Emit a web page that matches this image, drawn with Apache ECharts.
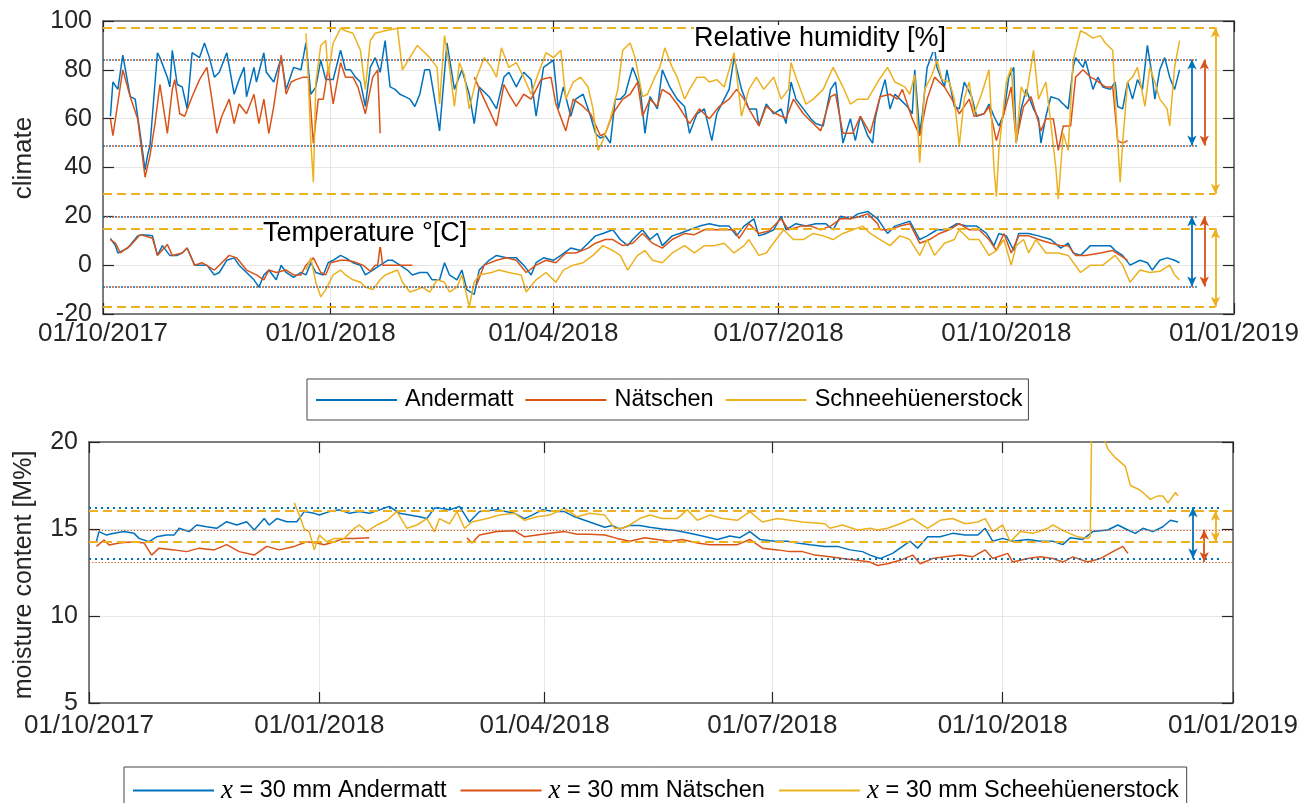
<!DOCTYPE html>
<html>
<head>
<meta charset="utf-8">
<title>Climate and moisture content</title>
<script src="https://cdn.jsdelivr.net/npm/echarts@6/dist/echarts.min.js"></script>
<style>
  html, body { margin: 0; padding: 0; background: #fff; }
  #chart { width: 1316px; height: 803px; }
</style>
</head>
<body>
<div id="chart"></div>
<script>
const stations = ['Andermatt', 'Nätschen', 'Schneehüenerstock'];
const mcNames = ['30 mm Andermatt', '30 mm Nätschen', '30 mm Scheehüenerstock'];
const colors = ['#0072BD', '#D95319', '#EDB120'];
const dateTicks = ['2017-10-01', '2018-01-01', '2018-04-01', '2018-07-01', '2018-10-01', '2019-01-01'];
const climateTicks = [-20, 100, 20];
const mcTicks = [5, 20, 5];

// [days after 01/10/2017, value]
const rhAndermatt = [
  [3,61],[4,75],[6,72],[8,86],[11,69],[13,68],[15,54],[17,39],[18,45],[19,49],[22,87],[23,85],[26,77],[27,73],[28,88],
  [30,74],[32,73],[34,64],[36,87],[39,85],[41,91],[43,85],[45,77],[47,79],[50,87],[53,70],[55,76],[57,81],[58,69],
  [61,81],[62,75],[65,87],[66,79],[69,75],[72,85],[74,72],[77,81],[80,80],[82,91],[84,70],[86,73],[88,84],[90,76],
  [93,76],[96,88],[98,80],[100,80],[102,77],[104,75],[106,65],[108,81],[110,85],[112,79],[114,92],[116,73],[118,72],
  [120,70],[122,69],[124,68],[126,65],[128,70],[130,80],[132,80],[134,68],[136,55],[139,91],[142,72],[145,80],[148,70],
  [150,58],[152,73],[156,69],[159,64],[162,77],[164,79],[167,73],[170,79],[173,76],[175,61],[178,81],[182,84],[184,64],
  [186,73],[189,61],[191,68],[194,70],[197,61],[199,54],[201,52],[203,53],[205,50],[207,68],[209,68],[211,70],[214,81],
  [217,73],[219,54],[221,69],[224,64],[226,80],[229,73],[232,68],[235,65],[237,54],[240,62],[243,64],[246,51],[248,62],
  [251,68],[253,72],[255,85],[258,72],[261,64],[264,64],[265,57],[268,66],[271,62],[274,64],[276,58],[278,75],[280,68],
  [283,64],[286,60],[288,58],[291,57],[294,72],[296,75],[299,50],[302,60],[304,51],[306,61],[309,53],[311,50],[312,60],
  [314,69],[316,76],[318,64],[320,70],[322,68],[325,65],[327,62],[328,80],[330,54],[331,61],[333,81],[336,89],[337,81],
  [340,73],[341,80],[344,65],[346,64],[348,75],[351,69],[353,61],[356,62],[358,66],[360,61],[362,57],[364,62],[366,77],
  [368,81],[369,50],[371,64],[373,72],[376,64],[378,60],[379,50],[381,61],[383,69],[386,68],[388,66],[390,64],[392,81],
  [393,85],[396,81],[397,84],[400,72],[402,77],[404,73],[407,72],[409,75],[410,65],[412,64],[414,75],[416,68],[418,76],
  [420,72],[422,90],[424,77],[425,68],[427,80],[429,85],[431,77],[433,72],[435,80]
];
const rhNaetschen = [
  [3,60],[4,53],[8,80],[11,69],[14,60],[17,36],[19,45],[21,58],[23,74],[26,54],[28,72],[29,76],[31,62],[33,61],[36,69],
  [39,76],[42,81],[44,68],[46,54],[48,61],[51,68],[53,58],[55,66],[58,62],[61,70],[63,58],[65,68],[67,54],[69,65],[72,86],
  [74,70],[76,75],[78,76],[81,77],[83,77],[85,50],[87,68],[89,68],[91,81],[93,66],[96,83],[98,77],[101,77],[103,73],
  [106,62],[109,77],[111,80],[112,54],[130,null],
  [150,77],[154,68],[159,57],[162,74],[164,70],[167,65],[170,70],[173,68],[177,76],[181,77],[183,66],[187,55],[190,68],
  [194,65],[197,62],[201,53],[203,54],[206,62],[210,68],[213,70],[216,75],[218,61],[221,68],[224,65],[226,72],[229,70],
  [232,66],[237,58],[241,64],[245,60],[249,65],[253,68],[256,72],[259,68],[261,64],[265,57],[268,65],[272,62],[276,60],
  [279,68],[283,62],[287,58],[290,55],[294,69],[296,70],[299,54],[303,54],[306,61],[310,54],[314,69],[318,70],[321,68],
  [323,72],[327,60],[330,53],[333,68],[336,77],[340,73],[343,68],[346,62],[350,68],[352,61],[356,62],[358,65],[361,51],
  [364,62],[367,73],[369,51],[372,65],[375,69],[379,55],[381,60],[384,60],[386,47],[388,57],[391,57],[393,77],[396,80],
  [399,77],[401,76],[405,73],[408,73],[410,51],[412,50],[414,51]
];
const rhSchnee = [
  [82,95],[83,75],[84,50],[85,34],[86,75],[88,90],[90,92],[91,78],[93,91],[96,97],[98,96],[101,95],[104,88],[106,72],
  [108,92],[110,95],[114,96],[119,97],[121,80],[124,85],[127,90],[129,88],[132,85],[135,81],[136,66],[138,94],[140,81],
  [142,65],[144,83],[146,78],[148,64],[151,77],[154,85],[157,81],[159,77],[161,89],[164,81],[167,83],[170,77],[173,70],
  [175,76],[179,87],[182,85],[185,88],[187,68],[190,75],[193,77],[196,73],[198,64],[200,47],[202,51],[205,60],[208,72],
  [210,88],[213,91],[215,85],[218,69],[220,70],[223,77],[225,81],[227,89],[230,81],[232,77],[235,68],[237,72],[240,77],
  [243,77],[245,75],[248,76],[251,73],[253,80],[255,87],[258,61],[261,72],[264,77],[267,72],[271,77],[274,68],[277,72],
  [278,83],[280,77],[284,66],[287,68],[291,72],[295,81],[299,73],[302,66],[305,68],[309,68],[313,75],[317,81],[320,75],
  [324,73],[326,70],[328,78],[330,42],[332,72],[335,78],[337,84],[339,76],[342,75],[344,68],[346,49],[348,68],[350,75],
  [352,62],[355,70],[358,80],[360,40],[361,28],[362,47],[365,75],[367,81],[369,50],[371,73],[373,69],[376,88],[378,68],
  [381,75],[383,58],[385,40],[386,27],[388,54],[390,47],[392,84],[395,96],[397,95],[400,93],[403,94],[405,91],[408,88],
  [409,68],[411,34],[412,50],[414,75],[416,77],[418,81],[421,65],[423,81],[425,75],[427,68],[430,64],[431,57],[433,81],
  [435,92]
];
const tAndermatt = [
  [3,11],[5,8],[6,5],[10,7],[14,12],[16,12.5],[20,12],[22,4],[24,8],[27,4],[30,4],[32,5],[34,7],[37,0],[39,0],[42,0],
  [45,-4],[47,-3],[50,2],[53,3],[55,0],[58,-3],[61,-6],[63,-9],[65,-4],[67,-2],[70,-6],[72,0],[74,-3],[77,-5],[80,-3],
  [82,-4],[84,1],[86,-3],[89,-4],[91,1],[93,2],[96,4],[98,3],[101,1],[104,0],[106,-4],[109,-2],[112,0],[115,2],[117,2],
  [120,0],[123,-2],[125,-4],[128,-3],[131,-3],[133,-6],[136,-6],[138,1],[140,-4],[143,-6],[145,-2],[147,-10],[150,-12],
  [152,-2],[156,2],[159,4],[163,3],[167,3],[170,0],[173,-4],[175,1],[178,3],[182,2],[185,4],[189,7],[193,6],[196,9],
  [199,12],[202,13],[206,14.5],[209,10.5],[212,8],[214,10.5],[218,14.5],[221,10.5],[224,13],[226,8],[230,12],[233,13],
  [237,14.5],[241,16],[245,17],[249,16],[253,16],[256,12],[259,16],[263,19],[265,12],[268,13],[271,14.5],[274,20],
  [276,14.5],[280,17],[284,16],[288,17],[292,17],[295,14.5],[298,20],[302,19],[305,21],[309,22],[313,19],[315,16],
  [317,13],[320,16],[323,17],[326,18],[330,10.5],[333,12],[337,14.5],[341,14.5],[345,17],[349,16],[353,16],[357,13],
  [360,8],[362,13],[365,12],[368,6],[370,13],[374,13],[378,12],[383,10.5],[387,7],[390,9],[392,5],[395,4],[399,8],
  [403,8],[407,8],[409,6],[412,4],[415,0],[419,2],[422,1],[424,-2],[427,2],[430,3],[433,2],[435,1]
];
const tNaetschen = [
  [3,10.5],[5,9],[7,5],[11,8],[15,12.5],[20,11],[22,4],[26,8.5],[28,4],[32,5],[34,7],[37,0],[40,1],[45,-2],[47,0],
  [51,4],[54,3],[58,-2],[62,-4],[65,-6],[67,-2],[70,-3],[74,-2],[77,-4],[80,-4],[82,0],[85,3],[88,-3],[90,-4],[92,1],
  [96,2],[98,2],[101,1.5],[105,0],[108,-2.5],[110,0],[111,0],[112,8],[113,0],[125,0],[135,null],
  [151,-8],[154,0],[159,2],[163,3],[167,2],[171,-3],[175,0],[179,2],[183,1],[187,5],[191,5],[196,7],[199,9],[203,10.5],
  [206,10.5],[210,8],[214,9],[218,13],[222,9],[226,7],[230,10.5],[235,13],[239,12.5],[243,14.5],[247,14.5],[251,14.5],
  [255,14.5],[257,11],[261,17],[265,13],[269,14],[274,19],[277,14.5],[282,16],[286,16],[290,14.5],[294,16],[298,19],
  [302,19],[306,20],[309,21],[313,17],[314,14.5],[318,14.5],[322,16],[326,17],[330,9],[334,10.5],[338,13],[342,14.5],
  [346,17],[350,14.5],[354,14.5],[358,10.5],[361,6],[364,13],[367,5],[370,12],[374,12],[378,10.5],[383,9],[387,8],
  [390,8],[393,4],[397,4],[403,5],[408,6],[411,4],[414,2]
];
const tSchnee = [
  [82,-2],[84,3],[86,-7],[88,-13],[90,-10],[93,-4],[96,-2],[98,-4],[101,-6],[104,-7],[106,-9],[109,-10],[112,-6],
  [114,-4],[119,-2],[121,-7],[124,-11],[127,-10],[129,-9],[132,-11],[135,-6],[138,-7],[140,-11],[143,-9],[145,-4],
  [148,-17],[150,-7],[152,-4],[157,-3],[160,-2],[164,-3],[169,-4],[171,-11],[175,-6],[179,-3],[183,-7],[186,-2],[190,0],
  [194,1],[198,4],[202,8],[206,6],[209,4],[212,-2],[216,4],[219,6],[222,2],[226,1],[230,5],[235,8],[239,5],[243,8],
  [247,8],[251,9],[255,5],[259,8],[261,10.5],[265,4],[268,5],[272,10.5],[275,14.5],[279,10.5],[283,10.5],[287,13],
  [291,12],[295,10.5],[299,13],[303,14.5],[307,16],[310,13],[314,10.5],[318,8],[322,12],[326,10.5],[330,4],[333,10.5],
  [336,4],[340,9],[344,10.5],[346,14.5],[350,10.5],[354,10.5],[358,4],[361,6],[364,10.5],[367,0],[369,8],[372,10.5],
  [374,5],[377,10.5],[381,5],[386,5],[390,4],[395,-3],[399,0],[404,0],[409,4],[412,0],[415,-7],[419,-2],[423,-3],
  [427,-2.5],[431,0],[433,-4],[435,-6]
];
const mcAndermatt = [
  [3,14.3],[4,14.85],[7,14.65],[10,14.75],[14,14.85],[18,14.75],[20,14.46],[24,14.27],[27,14.55],[31,14.65],[34,14.65],
  [36,15.04],[40,14.85],[43,15.23],[47,15.13],[51,15.04],[55,15.42],[59,15.23],[63,15.42],[66,14.94],[70,15.6],
  [72,15.23],[75,15.6],[79,15.42],[83,15.42],[86,16.0],[90,15.9],[92,15.8],[96,16.0],[100,16.1],[104,15.9],[108,16.0],
  [112,15.9],[116,16.1],[120,16.3],[124,15.9],[128,15.8],[132,15.7],[135,15.6],[138,16.2],[140,16.2],[144,16.1],
  [148,16.3],[152,15.4],[156,16.0],[163,16.1],[170,15.9],[174,15.6],[177,15.8],[181,16.1],[186,16.0],[190,16.0],
  [194,15.7],[198,15.5],[202,15.3],[206,15.1],[209,15.2],[212,15.0],[216,15.2],[220,15.2],[224,15.1],[229,15.0],
  [235,14.9],[240,14.75],[245,14.6],[251,14.4],[256,14.6],[260,14.5],[264,14.85],[268,14.4],[274,14.3],[279,14.3],
  [283,14.2],[288,14.1],[294,14.0],[299,14.0],[304,13.8],[309,13.7],[312,13.5],[316,13.3],[321,13.6],[328,14.3],
  [331,13.9],[335,14.55],[340,14.55],[345,14.75],[350,14.65],[355,14.65],[358,15.04],[361,14.3],[365,14.46],[369,14.3],
  [375,14.4],[380,14.3],[385,14.3],[389,14.1],[392,14.5],[397,14.4],[401,14.85],[407,14.94],[411,15.23],[415,14.94],
  [418,14.75],[421,15.04],[425,14.85],[429,15.13],[432,15.5],[435,15.4]
];
const mcNaetschen = [
  [3,14.0],[6,14.37],[8,14.08],[12,14.2],[18,14.27],[22,14.2],[25,13.5],[28,13.9],[34,13.8],[39,13.7],[44,13.9],
  [50,13.8],[55,14.1],[60,13.7],[66,13.5],[71,14.0],[76,13.8],[82,14.0],[87,14.27],[91,14.2],[94,14.1],[98,14.27],
  [102,14.46],[106,14.46],[112,14.5],[130,null],
  [151,14.5],[153,14.2],[156,14.65],[163,14.85],[170,14.9],[174,14.55],[179,14.65],[184,14.75],[190,14.85],[195,14.7],
  [200,14.7],[206,14.65],[211,14.46],[216,14.3],[222,14.5],[227,14.4],[232,14.3],[237,14.4],[243,14.2],[248,14.1],
  [253,14.1],[259,14.1],[264,14.4],[269,13.9],[275,13.8],[280,13.7],[285,13.7],[290,13.5],[296,13.4],[301,13.3],
  [307,13.2],[312,13.1],[315,12.9],[319,13.0],[324,13.2],[329,13.5],[332,13.0],[337,13.3],[342,13.4],[348,13.5],
  [353,13.4],[358,13.8],[361,13.3],[367,13.6],[369,13.1],[375,13.3],[380,13.4],[385,13.3],[389,13.1],[393,13.4],
  [399,13.1],[404,13.3],[409,13.7],[413,14.0],[415,13.6]
];
const mcSchnee = [
  [82,16.5],[84,15.8],[86,15.0],[88,14.85],[90,13.8],[92,14.65],[95,14.27],[98,14.46],[102,14.46],[106,15.04],
  [108,15.23],[111,14.85],[115,15.23],[119,15.5],[123,16.0],[127,15.04],[131,15.23],[135,15.6],[138,14.85],[140,15.6],
  [144,15.3],[147,16.0],[150,15.04],[153,15.4],[159,15.6],[164,15.8],[170,15.9],[174,15.5],[179,15.7],[184,15.8],
  [190,16.2],[195,15.7],[200,15.9],[206,15.8],[210,15.04],[213,15.04],[216,15.23],[220,15.6],[224,15.8],[229,15.6],
  [235,15.6],[239,16.1],[243,15.5],[248,15.8],[253,15.6],[259,15.5],[264,16.0],[269,15.4],[275,15.6],[280,15.5],
  [285,15.4],[294,15.3],[296,15.04],[301,15.23],[307,14.94],[312,15.04],[315,14.94],[319,15.04],[324,15.3],[329,15.6],
  [335,15.04],[340,15.5],[345,15.6],[350,15.3],[355,15.4],[358,15.6],[361,14.85],[365,15.23],[368,14.27],[372,14.85],
  [377,14.75],[383,15.04],[385,15.23],[390,14.85],[395,14.55],[399,14.46],[400,14.6],[401,26],[404,23],[406,20],
  [407,19.6],[410,19.1],[414,18.6],[416,17.5],[419,17.3],[421,17.1],[424,16.7],[427,16.9],[429,16.9],[431,16.5],
  [434,17.1],[435,16.9]
];

// [lower, upper] reference limits per station
const rhLimits = [[49, 84.2], [49, 84.2], [29.3, 97.3]];
const tLimits = [[-8.7, 20], [-8.7, 20], [-17, 15]];
const mcLimits = [[13.3, 16.25], [13.1, 14.95], [14.25, 16.05]];

// x is counted in days after 01/10/2017
const DAY = 86400000;
const t0 = Date.UTC(2017, 9, 1);
const parseDay = s => { const p = s.split('-').map(Number); return Math.round((Date.UTC(p[0], p[1] - 1, p[2]) - t0) / DAY); };
const tickDays = dateTicks.map(parseDay);
const pad = n => (n < 10 ? '0' : '') + n;
const fmtDay = v => { const d = new Date(t0 + Math.round(v) * DAY); return pad(d.getUTCDate()) + '/' + pad(d.getUTCMonth() + 1) + '/' + d.getUTCFullYear(); };

const axisColor = '#262626';
const font = 'Liberation Sans';

function dayAxis(gridIndex, position, labelMargin) {
  const bottom = position === 'bottom';
  return {
    type: 'value', gridIndex: gridIndex, position: position,
    min: tickDays[0], max: tickDays[tickDays.length - 1],
    axisLine: { show: true, onZero: false, lineStyle: { color: '#555', width: 1.5 } },
    axisTick: { show: true, inside: true, length: 11, customValues: tickDays, lineStyle: { color: axisColor, width: 1.2 } },
    axisLabel: {
      show: bottom, customValues: tickDays, formatter: fmtDay, fontSize: 26, color: axisColor,
      fontFamily: font, margin: labelMargin, showMinLabel: true, showMaxLabel: true, hideOverlap: false
    },
    splitLine: { show: bottom, lineStyle: { color: '#e6e6e6', width: 1 } }
  };
}

function valueAxis(gridIndex, position, ticks) {
  const left = position === 'left';
  return {
    type: 'value', gridIndex: gridIndex, position: position,
    min: ticks[0], max: ticks[1], interval: ticks[2],
    axisLine: { show: true, onZero: false, lineStyle: { color: '#555', width: 1.5 } },
    axisTick: { show: true, inside: true, length: 11, lineStyle: { color: axisColor, width: 1.2 } },
    axisLabel: { show: left, fontSize: 25, color: axisColor, fontFamily: font, margin: 11 },
    splitLine: { show: left, lineStyle: { color: '#e6e6e6', width: 1 } }
  };
}

// dotted limit lines at both bounds plus a double arrow between them
function limitMark(pair, lineEnd, arrowDay, color, style) {
  const data = [];
  pair.forEach(function (v) {
    data.push([{ coord: [0, v] }, { coord: [lineEnd, v] }]);
  });
  const arrowStyle = { type: 'solid', width: 1.8, color: color, dashOffset: 0 };
  data.push([
    { coord: [arrowDay, pair[1]], symbol: 'arrow', symbolSize: [7, 10], lineStyle: arrowStyle },
    { coord: [arrowDay, pair[0]], symbol: 'arrow', symbolSize: [7, 10], lineStyle: arrowStyle }
  ]);
  return {
    silent: true, animation: false, symbol: 'none',
    label: { show: false }, emphasis: { disabled: true },
    lineStyle: Object.assign({ color: color }, style),
    data: data
  };
}

const dotStyles = [
  { type: [2, 4], width: 1.6, dashOffset: 0 },
  { type: [2, 4], width: 1.6, dashOffset: 3 },
  { type: [9, 5], width: 1.8, dashOffset: 0 }
];
const mcStyles = [
  { type: [2, 4], width: 1.8, dashOffset: 0 },
  { type: [1.2, 2], width: 1.2, dashOffset: 0 },
  { type: [9, 5], width: 1.8, dashOffset: 0 }
];

const rhData = [rhAndermatt, rhNaetschen, rhSchnee];
const tData = [tAndermatt, tNaetschen, tSchnee];
const mcData = [mcAndermatt, mcNaetschen, mcSchnee];
const climateArrowDays = [440, 445, 449.5];
const climateLineEnds = [442, 442, 449.5];
const mcArrowDays = [441, 445.5, 450];
const mcLineEnds = [452, 457, 457];

const series = [];
stations.forEach(function (name, i) {
  series.push({
    name: name, type: 'line', xAxisIndex: 0, yAxisIndex: 0, data: rhData[i],
    symbol: 'none', connectNulls: false, lineStyle: { width: 1.5, color: colors[i] }, itemStyle: { color: colors[i] },
    markLine: limitMark(rhLimits[i], climateLineEnds[i], climateArrowDays[i], colors[i], dotStyles[i])
  });
  series.push({
    name: name, type: 'line', xAxisIndex: 0, yAxisIndex: 0, data: tData[i],
    symbol: 'none', connectNulls: false, lineStyle: { width: 1.5, color: colors[i] }, itemStyle: { color: colors[i] },
    markLine: limitMark(tLimits[i], climateLineEnds[i], climateArrowDays[i], colors[i], dotStyles[i])
  });
});
mcNames.forEach(function (name, i) {
  series.push({
    name: name, type: 'line', xAxisIndex: 2, yAxisIndex: 2, data: mcData[i],
    symbol: 'none', connectNulls: false, lineStyle: { width: 1.5, color: colors[i] }, itemStyle: { color: colors[i] },
    markLine: limitMark(mcLimits[i], mcLineEnds[i], mcArrowDays[i], colors[i], mcStyles[i])
  });
});

const legendBase = {
  orient: 'horizontal', icon: 'rect', itemWidth: 81, itemHeight: 2, itemGap: 11,
  borderColor: '#444', borderWidth: 1, backgroundColor: '#fff',
  selectedMode: false
};

const chart = echarts.init(document.getElementById('chart'), null, { renderer: 'canvas' });
chart.setOption({
  animation: false,
  backgroundColor: '#fff',
  grid: [
    { left: 103, top: 21, width: 1131, height: 293 },
    { left: 89, top: 442, width: 1144, height: 261 }
  ],
  xAxis: [dayAxis(0, 'bottom', 7), dayAxis(0, 'top', 7), dayAxis(1, 'bottom', 10), dayAxis(1, 'top', 10)],
  yAxis: [valueAxis(0, 'left', climateTicks), valueAxis(0, 'right', climateTicks),
          valueAxis(1, 'left', mcTicks), valueAxis(1, 'right', mcTicks)],
  legend: [
    Object.assign({}, legendBase, {
      data: stations, left: 307, top: 379, padding: [9, 6, 8, 9], itemGap: 12,
      textStyle: { fontSize: 23.5, fontFamily: font, color: '#000', lineHeight: 19, padding: [0, 0, 0, 3] }
    }),
    Object.assign({}, legendBase, {
      data: mcNames, left: 124, top: 767, padding: [10, 8, 10, 9], itemGap: 14,
      formatter: function (name) { return '{i|x} = ' + name; },
      textStyle: {
        fontSize: 23.5, fontFamily: font, color: '#000', lineHeight: 20, padding: [0, 0, 0, 2],
        rich: { i: { fontFamily: 'Liberation Serif', fontStyle: 'italic', fontSize: 27, color: '#000' } }
      }
    })
  ],
  graphic: [
    { type: 'text', left: 694, top: 25, z: 100,
      style: { text: 'Relative humidity [%]', font: '27px "Liberation Sans"', fill: '#000', backgroundColor: '#fff' } },
    { type: 'text', left: 263, top: 220, z: 100,
      style: { text: 'Temperature °[C]', font: '27px "Liberation Sans"', fill: '#000', backgroundColor: '#fff' } },
    { type: 'text', x: 24, y: 158, rotation: Math.PI / 2,
      style: { text: 'climate', font: '26px "Liberation Sans"', fill: axisColor, align: 'center', verticalAlign: 'middle' } },
    { type: 'text', x: 24, y: 575, rotation: Math.PI / 2,
      style: { text: 'moisture content [M%]', font: '25px "Liberation Sans"', fill: axisColor, align: 'center', verticalAlign: 'middle' } }
  ],
  series: series
});
</script>
</body>
</html>
